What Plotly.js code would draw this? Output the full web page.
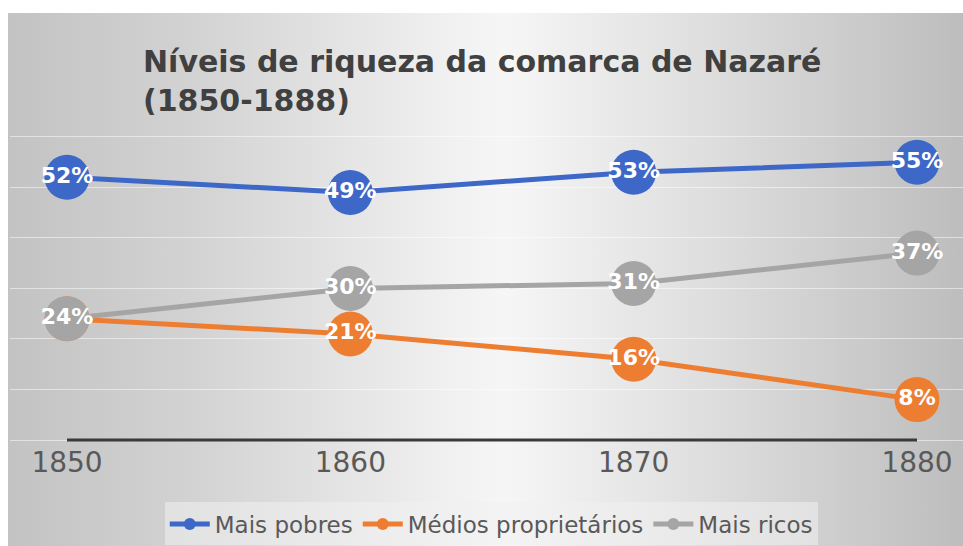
<!DOCTYPE html>
<html>
<head>
<meta charset="utf-8">
<script src="https://cdn.plot.ly/plotly-3.0.1.min.js"></script>
<style>
  html, body { margin: 0; padding: 0; background: #ffffff; }
  #chart {
    width: 963px; height: 546px;
    background-color: #ffffff;
    background-image: linear-gradient(to right, #c3c3c3 0%, #d3d3d3 20%, #efefef 45%, #f6f6f6 52%, #dcdcdc 75%, #bdbdbd 100%);
    background-repeat: no-repeat;
    background-position: 8px 13px;
    background-size: 955px 533px;
  }
</style>
</head>
<body>
<div id="chart"></div>
<script>
const years = [1850, 1860, 1870, 1880];
const maisPobres = [52, 49, 53, 55];
const mediosProprietarios = [24, 21, 16, 8];
const maisRicos = [24, 30, 31, 37];
const seriesNames = ['Mais pobres', 'Médios proprietários', 'Mais ricos'];
const seriesColors = ['#3D68C8', '#ED7D31', '#A5A5A5'];
const titleText = 'Níveis de riqueza da comarca de Nazaré<br>(1850-1888)';

const FONT = 'DejaVu Sans, sans-serif';

function mk(name, vals, color) {
  return {
    type: 'scatter', mode: 'lines+markers+text',
    x: years, y: vals, name: name,
    line: { color: color, width: 5 },
    marker: { color: color, size: 45 },
    text: vals.map(v => v + '%'),
    textposition: 'middle center',
    textfont: { family: FONT, size: 22, color: '#ffffff', weight: 'bold' },
    cliponaxis: false,
    hoverinfo: 'skip'
  };
}

const data = [
  mk(seriesNames[0], maisPobres, seriesColors[0]),
  mk(seriesNames[1], mediosProprietarios, seriesColors[1]),
  mk(seriesNames[2], maisRicos, seriesColors[2])
];

const layout = {
  width: 963, height: 546,
  paper_bgcolor: 'rgba(0,0,0,0)',
  plot_bgcolor: 'rgba(0,0,0,0)',
  margin: { l: 10, r: 0, t: 130, b: 100 },
  title: {
    text: titleText,
    x: 143 / 963, xanchor: 'left', xref: 'container',
    y: 1 - 72 / 546, yanchor: 'top', yref: 'container',
    font: { family: FONT, size: 30, color: '#404040', weight: 'bold' }
  },
  xaxis: {
    range: [1847.988, 1881.623],
    tickvals: years, ticktext: years.map(String),
    showgrid: false, zeroline: false, showline: false,
    ticks: '', tickfont: { family: FONT, size: 28, color: '#595959' },
    fixedrange: true
  },
  yaxis: {
    range: [-0.59, 61.37],
    dtick: 10, showticklabels: false,
    gridcolor: 'rgba(255,255,255,0.5)', gridwidth: 1,
    zeroline: false, showline: false, fixedrange: true
  },
  shapes: [{
    type: 'line', xref: 'x', yref: 'y',
    x0: years[0], x1: years[years.length - 1], y0: 0, y1: 0,
    line: { color: '#3a3a3a', width: 3 }, layer: 'above'
  }],
  legend: {
    orientation: 'h', x: 0.505, xanchor: 'center', y: -0.19, yanchor: 'top',
    font: { family: FONT, size: 23, color: '#595959' },
    bgcolor: 'rgba(240,240,240,0.55)',
    itemwidth: 40, itemsizing: 'constant'
  },
  showlegend: true
};

Plotly.newPlot('chart', data, layout, { displayModeBar: false, staticPlot: true });
</script>
</body>
</html>
